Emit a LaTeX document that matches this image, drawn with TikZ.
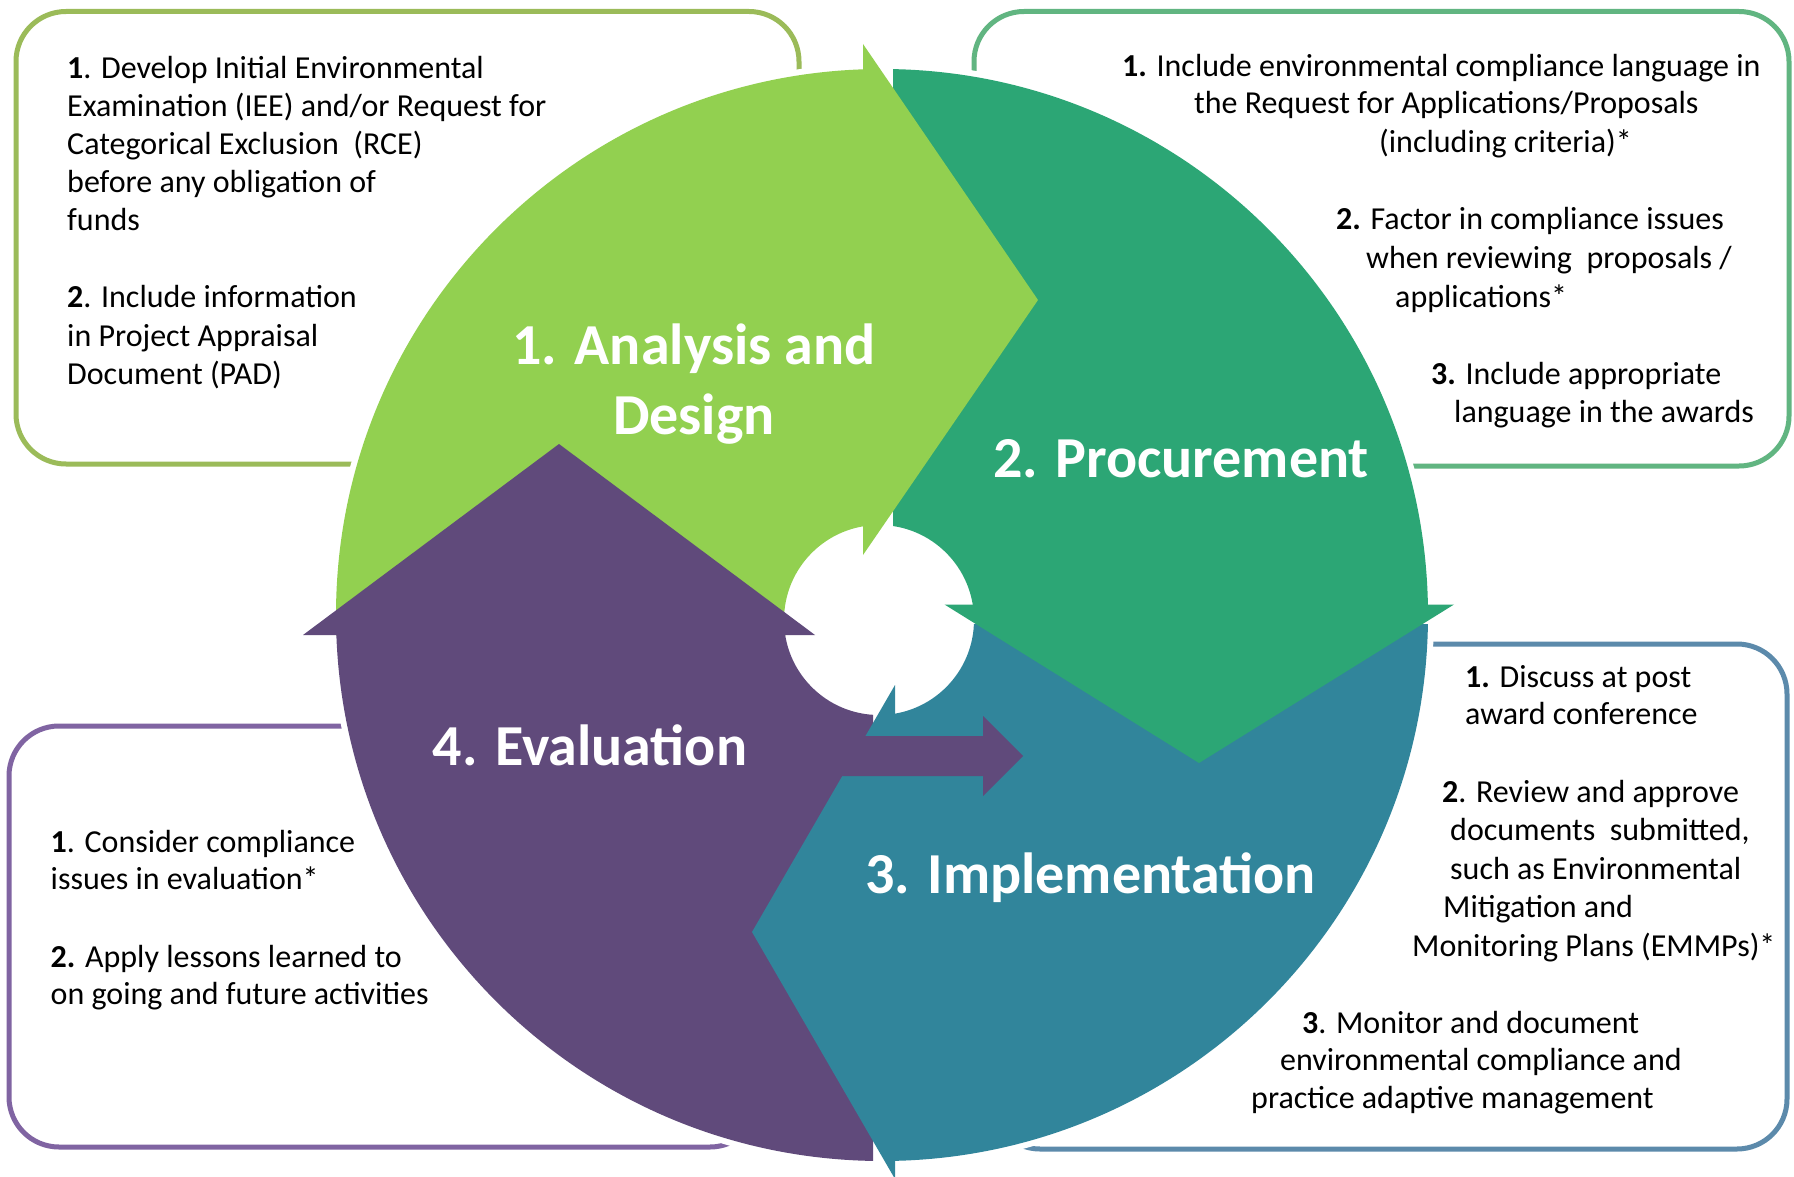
\documentclass[tikz,border=0pt]{standalone}
\usepackage{fontspec}
\setmainfont{Carlito}
\definecolor{cLG}{RGB}{146,208,80}
\definecolor{cDG}{RGB}{44,166,117}
\definecolor{cTL}{RGB}{49,133,155}
\definecolor{cPU}{RGB}{96,74,123}
\definecolor{bLG}{RGB}{155,187,89}
\definecolor{bDG}{RGB}{97,181,129}
\definecolor{bBL}{RGB}{92,138,171}
\definecolor{bPU}{RGB}{128,100,162}
\begin{document}
\begin{tikzpicture}[x=1pt,y=-1pt,
  boxline/.style={line width=5pt,rounded corners=50pt},
  bt/.style={inner sep=0pt,anchor=base west,font=\fontsize{32}{38}\selectfont,text=black},
  ttl/.style={inner sep=0pt,anchor=base,font=\fontsize{58}{70}\selectfont\bfseries,text=white}]
\useasboundingbox (0,0) rectangle (1794,1177);
\fill[white] (0,0) rectangle (1794,1177);
% side boxes
\draw[boxline,draw=bLG] (16,11.5) rectangle (799,464);
\draw[boxline,draw=bDG] (974,11.5) rectangle (1789,466);
\draw[boxline,draw=bBL] (990,644) rectangle (1787,1149);
\draw[boxline,draw=bPU] (9,726) rectangle (760,1147);
\fill[white] (882,615) circle (552pt);
% segment bodies
\begin{scope}
  \clip (0,0) rectangle (863,635);
  \fill[cLG,even odd rule] (882,615) circle (546pt) (879,620) circle (95pt);
\end{scope}
\begin{scope}
  \clip (893,0) rectangle (1794,604.5);
  \fill[cDG,even odd rule] (882,615) circle (546pt) (879,620) circle (95pt);
\end{scope}
\begin{scope}
  \clip (895,624) rectangle (1794,1177);
  \fill[cTL,even odd rule] (882,615) circle (546pt) (879,620) circle (95pt);
\end{scope}
\begin{scope}
  \clip (0,635) rectangle (873,1177);
  \fill[cPU,even odd rule] (882,615) circle (546pt) (879,620) circle (95pt);
\end{scope}
% arrowheads
\fill[cLG] (863,44) -- (1038,300) -- (863,555) -- cycle;
\fill[cDG] (944.5,604.5) -- (1454,604.5) -- (1199,763) -- cycle;
\fill[cTL] (895,685) -- (895,1179) -- (752,932) -- cycle;
\fill[cPU] (303,635) -- (559,444) -- (815,635) -- cycle;
% small purple arrow
\fill[cPU] (800,736) -- (983,736) -- (983,716) -- (1023,756) -- (983,796) -- (983,776) -- (800,776) -- cycle;
% titles
\node[ttl] (t1a) at (694,364) {1. Analysis and};
\node[ttl] (t1b) at (694,434) {Design};
\node[ttl] (t2) at (1181,477) {2. Procurement};
\node[ttl] (t3) at (1090.5,893) {3. Implementation};
\node[ttl] (t4) at (590,765) {4. Evaluation};
% box 1 text
\node[bt] (a1) at (67,78.5) {\textbf{1}. Develop Initial Environmental};
\node[bt] (a2) at (67,116.5) {Examination (IEE) and/or Request for};
\node[bt] (a3) at (67,154.5) {Categorical Exclusion~ (RCE)};
\node[bt] (a4) at (67,193) {before any obligation of};
\node[bt] (a5) at (67,231) {funds};
\node[bt] (a6) at (67,307) {\textbf{2}. Include information};
\node[bt] (a7) at (67,346) {in Project Appraisal};
\node[bt] (a8) at (67,384) {Document (PAD)};
% box 2 text
\node[bt] (b1) at (1122,77) {\textbf{1.} Include environmental compliance language in};
\node[bt] (b2) at (1194,114) {the Request for Applications/Proposals};
\node[bt] (b3) at (1379,152.5) {(including criteria)*};
\node[bt] (b4) at (1336,230) {\textbf{2.} Factor in compliance issues};
\node[bt] (b5) at (1366,269) {when reviewing~ proposals /};
\node[bt] (b6) at (1395,307) {applications*};
\node[bt] (b7) at (1431,384) {\textbf{3.} Include appropriate};
\node[bt] (b8) at (1454,422) {language in the awards};
% box 3 text
\node[bt] (c1) at (1465,687) {\textbf{1.} Discuss at post};
\node[bt] (c2) at (1465,724.5) {award conference};
\node[bt] (c3) at (1442,802) {\textbf{2}. Review and approve};
\node[bt] (c4) at (1450,840.5) {documents~ submitted,};
\node[bt] (c5) at (1450,879) {such as Environmental};
\node[bt] (c6) at (1443,917) {Mitigation and};
\node[bt] (c7) at (1412,956) {Monitoring Plans (EMMPs)*};
\node[bt] (c8) at (1302,1033) {\textbf{3}. Monitor and document};
\node[bt] (c9) at (1280,1070) {environmental compliance and};
\node[bt] (c10) at (1251,1108) {practice adaptive management};
% box 4 text
\node[bt] (d1) at (50.5,852) {\textbf{1}. Consider compliance};
\node[bt] (d2) at (50.5,889.5) {issues in evaluation*};
\node[bt] (d3) at (50.5,967) {\textbf{2.} Apply lessons learned to};
\node[bt] (d4) at (50.5,1004) {on going and future activities};
\end{tikzpicture}
\end{document}
